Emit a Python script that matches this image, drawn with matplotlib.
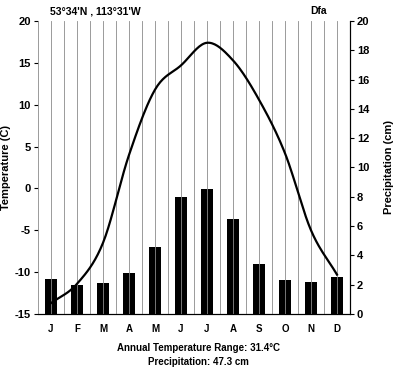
import numpy as np
import matplotlib
matplotlib.use('Agg')
import matplotlib.pyplot as plt

plt.rcParams['font.family'] = ['Liberation Sans', 'DejaVu Sans']
plt.rcParams['font.weight'] = 'bold'
plt.rcParams['axes.unicode_minus'] = False

months = ['J', 'F', 'M', 'A', 'M', 'J', 'J', 'A', 'S', 'O', 'N', 'D']
temp = [-13.7, -11.4, -6.5, 4.0, 11.8, 14.7, 17.4, 15.3, 10.6, 4.2, -5.0, -10.3]
precip = [2.4, 2.0, 2.1, 2.8, 4.6, 8.0, 8.5, 6.5, 3.4, 2.3, 2.2, 2.5]


def smooth(x, y, n=20):
    # catmull-rom through the monthly points, like the spreadsheet smoothing
    x = np.asarray(x, float); y = np.asarray(y, float)
    px = np.concatenate([[2*x[0]-x[1]], x, [2*x[-1]-x[-2]]])
    py = np.concatenate([[2*y[0]-y[1]], y, [2*y[-1]-y[-2]]])
    xs, ys = [], []
    t = np.linspace(0, 1, n, endpoint=False)
    for i in range(1, len(px)-2):
        for P, out in ((px, xs), (py, ys)):
            p0, p1, p2, p3 = P[i-1], P[i], P[i+1], P[i+2]
            out.extend(0.5*((2*p1) + (-p0+p2)*t + (2*p0-5*p1+4*p2-p3)*t**2
                            + (-p0+3*p1-3*p2+p3)*t**3))
    xs.append(x[-1]); ys.append(y[-1])
    return np.array(xs), np.array(ys)


x = np.arange(1, 13)
fig = plt.figure(figsize=(3.93, 3.70), dpi=100)
ax = fig.add_axes([0.0967, 0.1514, 0.7939, 0.7918])
ax2 = ax.twinx()

for g in np.arange(1, 12.6, 0.5):
    ax.axvline(g, color='#8a8a8a', lw=0.6, zorder=0)

ax2.bar(x, precip, width=0.46, color='black', zorder=2)
sx, sy = smooth(x, temp)
ax.plot(sx, sy, color='black', lw=1.6, zorder=3)
ax.set_zorder(ax2.get_zorder() + 1)
ax.patch.set_visible(False)

ax.set_xlim(0.5, 12.5)
ax.set_ylim(-15, 20)
ax2.set_ylim(0, 20)
ax.set_yticks(range(-15, 21, 5))
ax2.set_yticks(range(0, 21, 2))
ax.set_xticks(x)
ax.set_xticklabels(months)
ax.tick_params(axis='x', length=0, pad=7, labelsize=7)
ax.tick_params(axis='y', length=3, width=0.8, labelsize=8, pad=2)
ax2.tick_params(axis='y', length=3, width=0.8, labelsize=8, pad=2)
for a in (ax, ax2):
    a.spines['top'].set_visible(False)
    a.spines['bottom'].set_linewidth(0.8)
ax.spines['left'].set_color('#8a8a8a')
ax.spines['left'].set_linewidth(0.6)
ax2.spines['left'].set_visible(False)
ax2.spines['right'].set_linewidth(0.8)

ax.set_ylabel('Temperature (C)', fontsize=8, fontweight='bold')
ax.yaxis.set_label_coords(-0.085, 0.5)
ax2.set_ylabel('Precipitation (cm)', fontsize=8, fontweight='bold')
ax2.yaxis.set_label_coords(1.11, 0.5)

fig.text(0.127, 0.983, "53°34'N , 113°31'W", fontsize=7.5, fontweight='bold', va='top')
fig.text(0.79, 0.983, 'Dfa', fontsize=7.5, fontweight='bold', va='top')
fig.text(0.505, 0.06, 'Annual Temperature Range: 31.4°C', fontsize=7, fontweight='bold', ha='center', va='center')
fig.text(0.505, 0.022, 'Precipitation: 47.3 cm', fontsize=7, fontweight='bold', ha='center', va='center')

fig.savefig('out.png', dpi=100)
